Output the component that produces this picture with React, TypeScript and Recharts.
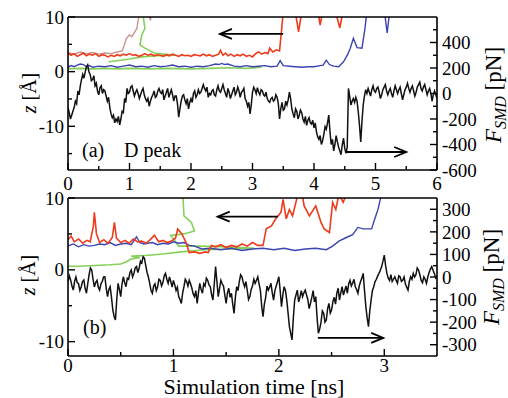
import React from 'react';
import { LineChart, Line, XAxis, YAxis, ReferenceLine } from 'recharts';

const FONT = "'Liberation Serif', 'Times New Roman', Times, Tinos, 'Noto Serif', 'DejaVu Serif', FreeSerif, 'Nimbus Roman', serif";

// ---------- Panel (a) ----------
const xMajorA = [0, 1, 2, 3, 4, 5, 6];
const xTicksA = [0, 0.5, 1, 1.5, 2, 2.5, 3, 3.5, 4, 4.5, 5, 5.5, 6];
const zMajorA = [-10, 0, 10];
const zTicksA = [-15, -10, -5, 0, 5, 10];
const fMajorA = [-600, -400, -200, 0, 200, 400];
const fTicksA = [-600, -500, -400, -300, -200, -100, 0, 100, 200, 300, 400, 500];

const stepA = 0.02;
const forceA = [
  -110, -150, -200, -170, -140, -110, -60, -80, 20, -10, 60, 110, 150, 120, 170, 210, 225, 170, 150, 100,
  110, 140, 60, 80, 20, -10, 45, 60, 0, 30, 20, -20, -60, -30, -110, -160, -190, -170, -230, -200,
  -220, -180, -247, -200, -140, -150, -40, -70, 40, 0, 10, 50, 60, 20, -20, 10, 30, 0, -40, -10,
  20, 40, -10, -40, -60, -40, -100, -60, -30, -10, 20, -30, -20, 20, 40, 10, 0, 30, -50, -20,
  10, 40, -30, 0, 30, -10, -60, -20, -20, -80, -185, -120, -60, -20, -10, -50, -80, -40, -120, -70,
  -40, -70, 0, 20, -30, -10, 30, 0, 10, 40, 70, 40, 20, 50, -30, 0, -10, 20, 30, -10,
  -20, 30, 60, 20, 10, 40, 70, 30, 0, -30, 40, 10, -40, -10, 20, 50, -10, 10, 50, 20,
  -30, 10, 20, 40, -40, -60, -100, -70, -160, -90, 10, 50, 30, 0, 45, 10, -10, 30, 20, -10,
  -20, 10, -40, -60, -70, -40, -30, -60, -50, -10, -30, -80, -200, -120, -70, -130, -120, -60, -90, -50,
  10, -40, -120, -160, -190, -120, -140, -200, -170, -130, -150, -200, -225, -180, -250, -210, -190, -230, -240, -210,
  -270, -230, -300, -340, -360, -330, -400, -370, -320, -260, -280, -230, -170, -300, -400, -360, -450, -400, -330, -380,
  -420, -450, -480, -400, -350, -430, -470, -420, 40, -20, -90, -60, -40, -70, -30, -60, -145, -250, -380, -220,
  -90, -20, 30, 0, 40, 10, -20, 30, 60, 20, 10, 40, 50, 10, -40, -10, 30, 50, 70, 20,
  -10, 20, 40, 0, -30, 20, 60, 30, 0, 30, 50, 0, -50, -10, 30, 50, 80, 40, 10, 40,
  60, 20, -20, 10, 50, 70, 90, 40, 20, 50, 70, 30, -10, 20, 40, 0, -60, -10, 20, -10,
  -40,
];

const redA: [number, number][] = [
  [0, 3.4], [0.05, 3.0], [0.1, 3.3], [0.15, 2.8], [0.2, 3.1], [0.25, 3.4], [0.3, 2.9], [0.35, 3.2],
  [0.4, 3.0], [0.45, 3.3], [0.5, 2.8], [0.55, 3.1], [0.6, 3.0], [0.65, 2.7], [0.7, 3.0], [0.75, 2.8],
  [0.8, 3.1], [0.85, 2.9], [0.9, 3.2], [0.95, 3.0], [1.0, 3.3], [1.05, 3.0], [1.1, 3.1], [1.15, 2.8],
  [1.2, 3.0], [1.25, 3.3], [1.3, 3.0], [1.35, 3.2], [1.4, 2.9], [1.45, 3.1], [1.5, 3.0], [1.55, 2.8],
  [1.6, 3.1], [1.65, 2.9], [1.7, 3.2], [1.75, 3.0], [1.8, 2.8], [1.85, 3.1], [1.9, 2.9], [1.95, 3.0],
  [2.0, 2.8], [2.05, 3.1], [2.1, 3.0], [2.15, 2.9], [2.2, 3.2], [2.25, 2.9], [2.3, 3.1], [2.35, 2.8],
  [2.4, 3.0], [2.45, 3.2], [2.48, 3.9], [2.52, 3.0], [2.56, 3.4], [2.6, 2.9], [2.65, 3.2], [2.7, 2.8],
  [2.75, 3.1], [2.8, 2.9], [2.85, 3.2], [2.9, 2.8], [2.95, 3.0], [3.0, 2.7], [3.05, 3.3], [3.1, 3.6],
  [3.15, 3.2], [3.2, 3.5], [3.25, 3.3], [3.28, 4.3], [3.33, 3.6], [3.39, 4.0], [3.44, 3.8], [3.47, 7.3],
  [3.5, 11], [3.6, 13], [3.7, 10.6], [3.75, 7.3], [3.8, 11], [3.9, 14], [4.0, 12], [4.07, 10.6],
  [4.1, 8.5], [4.14, 11], [4.25, 14], [4.35, 11], [4.42, 8.0], [4.47, 11], [4.6, 15], [6, 15],
];

const blueA: [number, number][] = [
  [0, 0.8], [0.05, 1.1], [0.1, 0.9], [0.15, 1.2], [0.2, 1.4], [0.25, 1.3], [0.3, 0.9], [0.35, 1.1],
  [0.4, 0.8], [0.5, 1.0], [0.6, 0.9], [0.7, 1.1], [0.8, 0.8], [0.9, 1.0], [1.0, 1.2], [1.1, 0.9],
  [1.2, 1.0], [1.3, 0.8], [1.4, 1.1], [1.5, 0.9], [1.6, 1.0], [1.7, 1.2], [1.8, 0.9], [1.9, 1.0],
  [2.0, 0.8], [2.1, 1.0], [2.2, 0.9], [2.3, 1.1], [2.4, 1.4], [2.45, 1.3], [2.5, 1.5], [2.55, 1.3],
  [2.6, 1.4], [2.7, 1.0], [2.8, 0.9], [2.9, 1.1], [3.0, 0.9], [3.1, 1.0], [3.2, 1.1], [3.3, 0.9],
  [3.4, 1.0], [3.45, 2.0], [3.5, 1.1], [3.6, 1.0], [3.7, 0.9], [3.8, 0.8], [3.9, 0.9], [4.0, 0.9],
  [4.1, 1.1], [4.15, 1.2], [4.2, 2.1], [4.25, 1.3], [4.32, 1.0], [4.4, 0.9], [4.48, 1.8], [4.55, 3.2],
  [4.59, 4.3], [4.64, 6.1], [4.7, 4.4], [4.78, 4.3], [4.83, 8.0], [4.86, 11], [5.05, 13], [5.15, 10.6],
  [5.19, 7.1], [5.23, 11], [5.5, 14], [6, 15],
];

const greenA: [number, number][] = [
  [0, 0.5], [0.2, 0.6], [0.4, 0.5], [0.6, 0.6], [0.8, 0.5], [1.0, 0.6], [1.3, 0.5], [1.6, 0.6],
  [2.0, 0.5], [2.3, 0.6], [2.6, 0.7], [2.9, 0.6], [3.15, 0.8],
];

const green2A: [number, number][] = [
  [0.66, 1.8], [0.8, 2.0], [1.0, 2.3], [1.2, 2.7], [1.45, 2.9], [1.74, 3.0], [1.55, 3.2], [1.41, 3.35],
  [1.25, 4.3], [1.17, 4.9], [1.2, 6.7], [1.25, 7.9], [1.22, 10.4], [1.22, 14],
];

const brownA: [number, number][] = [
  [0, 3.5], [0.1, 3.2], [0.2, 3.6], [0.3, 3.3], [0.4, 3.5], [0.5, 3.2], [0.6, 3.4], [0.7, 3.3],
  [0.8, 3.6], [0.88, 3.8], [0.92, 5.0], [0.95, 6.1], [1.0, 6.7], [1.04, 6.4], [1.08, 7.2], [1.12, 7.9],
  [1.15, 10], [1.2, 12], [1.3, 11], [1.34, 9.4], [1.38, 12],
];

// ---------- Panel (b) ----------
const xMajorB = [0, 1, 2, 3];
const xTicksB = [0, 0.5, 1, 1.5, 2, 2.5, 3];
const zMajorB = [-10, 0, 10];
const zTicksB = [-10, -5, 0, 5, 10];
const fMajorB = [-300, -200, -100, 0, 100, 200, 300];
const fTicksB = [-300, -250, -200, -150, -100, -50, 0, 50, 100, 150, 200, 250, 300];

const stepB = 0.0125;
const forceB = [
  -20, 5, -13, -40, -58, -20, 0, -25, -30, -60, -44, -20, -13, -50, -72, -30, 10, 40, 31, -10,
  -44, -25, -15, -45, -58, -30, -20, 0, 1, -50, -87, -55, -43, -90, -146, -175, -190, -100, -28, -55,
  -87, -30, 1, -25, -43, -5, -10, 20, 31, 0, 16, 40, 46, 20, 40, 70, 62, 90, 83, 50,
  20, 0, -28, -60, -72, -40, -30, -60, -43, -10, -15, -40, -25, 5, 16, -10, -28, 0, -20, -45,
  -15, -35, -60, -45, -87, -100, -117, -70, -43, -10, -20, -40, -15, -30, -50, -75, -87, -60, -117, -70,
  -28, -55, -72, -30, -40, -5, -15, -35, -43, -80, -102, -30, 46, -20, -87, -50, -15, -30, -40, -80,
  -117, -70, -50, -90, -72, -120, -161, -90, -43, -60, -20, 10, 1, -25, -43, -20, -58, -100, -87, -55,
  -40, -10, -28, -15, 1, -30, -60, -130, -176, -120, -90, -40, -58, -45, -28, -70, -102, -60, -40, -20,
  1, -60, -131, -80, -43, -60, -102, -160, -220, -250, -279, -180, -102, -80, -58, -110, -90, -60, -87, -70,
  -58, -80, -100, -140, -117, -90, -60, -110, -87, -180, -249, -230, -200, -150, -161, -200, -190, -140, -117, -160,
  -146, -110, -90, -120, -72, -50, -102, -70, -43, -80, -60, -40, -72, -30, -15, -40, -28, -10, -43, -55,
  -72, -40, -20, -5, 16, -60, -131, -180, -220, -150, -102, -60, -43, -20, -10, 5, 16, 30, 46, 70,
  97, 50, 16, -5, -15, 10, -20, -10, 1, -15, -28, 5, 1, -20, -15, 0, -30, -45, -58, -20,
  1, -10, 16, 0, 10, 40, 31, 10, -15, -25, 1, -10, -28, 0, 20, 35, 46, 30, 16, -5,
  1,
];

const redB: [number, number][] = [
  [0, 4.2], [0.03, 4.7], [0.06, 3.9], [0.1, 4.3], [0.14, 3.7], [0.18, 4.1], [0.21, 3.9], [0.24, 6.0],
  [0.25, 8.0], [0.27, 5.0], [0.3, 3.8], [0.34, 4.2], [0.38, 3.7], [0.42, 4.5], [0.44, 6.6], [0.46, 4.4],
  [0.5, 3.8], [0.54, 4.1], [0.58, 3.7], [0.62, 4.3], [0.66, 3.9], [0.7, 4.0], [0.74, 3.7], [0.78, 4.2],
  [0.82, 4.8], [0.86, 3.9], [0.9, 4.1], [0.94, 3.8], [0.98, 4.0], [1.02, 4.4], [1.04, 5.7], [1.08, 5.0],
  [1.12, 3.8], [1.15, 2.4], [1.2, 2.5], [1.25, 2.3], [1.3, 2.5], [1.33, 2.4], [1.36, 3.4], [1.4, 3.2],
  [1.45, 3.5], [1.5, 3.1], [1.55, 3.4], [1.6, 3.2], [1.65, 3.6], [1.7, 3.3], [1.75, 3.8], [1.8, 3.4],
  [1.85, 3.4], [1.88, 5.7], [1.93, 6.1], [1.97, 7.1], [2.02, 8.0], [2.04, 9.8], [2.07, 7.1], [2.1, 8.4],
  [2.13, 7.5], [2.18, 10.5], [2.21, 11.5], [2.24, 8.9], [2.29, 7.5], [2.35, 8.9], [2.4, 6.6], [2.43, 5.7],
  [2.48, 5.2], [2.51, 9.4], [2.54, 8.4], [2.57, 10.5], [2.61, 9.4], [2.64, 10.5], [2.7, 12.5], [3.5, 14],
];

const blueB: [number, number][] = [
  [0, 3.3], [0.05, 3.6], [0.1, 3.2], [0.15, 3.5], [0.2, 3.3], [0.25, 3.4], [0.3, 3.6], [0.35, 3.5],
  [0.4, 3.8], [0.45, 3.4], [0.5, 3.6], [0.55, 3.7], [0.6, 3.5], [0.65, 4.6], [0.68, 3.8], [0.72, 3.6],
  [0.8, 3.8], [0.85, 3.5], [0.9, 3.7], [0.95, 3.6], [1.0, 3.9], [1.05, 3.7], [1.1, 3.8], [1.15, 3.4],
  [1.2, 3.3], [1.27, 2.9], [1.35, 3.0], [1.45, 2.8], [1.55, 3.0], [1.65, 2.7], [1.75, 2.9], [1.85, 3.0],
  [1.95, 2.8], [2.05, 3.0], [2.15, 2.7], [2.25, 2.9], [2.35, 3.0], [2.45, 2.8], [2.51, 3.3], [2.57, 4.0],
  [2.64, 4.5], [2.7, 4.9], [2.75, 5.9], [2.8, 5.7], [2.88, 5.7], [2.91, 7.1], [2.94, 8.4], [2.97, 10.3],
  [3.05, 12], [3.5, 14],
];

const greenB: [number, number][] = [
  [0, 0.5], [0.1, 0.5], [0.25, 0.6], [0.4, 0.7], [0.5, 0.8], [0.55, 1.1], [0.6, 1.5], [0.68, 1.7],
  [0.6, 1.9], [0.73, 2.0], [0.9, 2.2], [1.07, 2.5], [1.3, 2.8], [1.55, 2.9], [1.77, 3.0], [1.5, 3.2],
  [1.25, 3.3], [1.05, 3.3], [0.975, 4.8], [1.1, 5.0], [1.2, 5.4], [1.17, 6.6], [1.1, 7.5], [1.09, 10.3],
  [1.09, 13],
];

// ---------- helpers ----------
const RED = '#ef3b1c';
const BLUE = '#3b44b0';
const GREEN = '#86d05a';
const BROWN = '#c99490';
const BLACK = '#111111';

const toSeries = (pts: [number, number][]) => pts.map(([t, v]) => ({ t, v }));
const toUniform = (vals: number[], dt: number) => vals.map((v, i) => ({ t: Math.round(i * dt * 10000) / 10000, v }));

const tickTextStyle = { fontFamily: FONT, fontSize: 19, fill: '#000' } as any;

function AxisTick(props: any) {
  const { x, y, payload, tkSide, tkMajor, tkLabel, tkOff } = props;
  const v = payload.value;
  const isMajor = tkMajor.includes(v);
  const len = isMajor ? 7 : 4;
  const sw = 1.4;
  let line: any = null;
  let label: any = null;
  if (tkSide === 'left') {
    line = <line x1={x} y1={y} x2={x + len} y2={y} stroke="#000" strokeWidth={sw} />;
    if (isMajor && tkLabel) label = <text x={x - 4} y={y} dy="0.35em" textAnchor="end" fontFamily={FONT} style={tickTextStyle}>{v}</text>;
  } else if (tkSide === 'right') {
    line = <line x1={x} y1={y} x2={x - len} y2={y} stroke="#000" strokeWidth={sw} />;
    if (isMajor && tkLabel) label = <text x={x + 5} y={y} dy="0.35em" textAnchor="start" fontFamily={FONT} style={tickTextStyle}>{v}</text>;
  } else if (tkSide === 'bottom') {
    line = <line x1={x} y1={y} x2={x} y2={y - len} stroke="#000" strokeWidth={sw} />;
    if (isMajor && tkLabel) label = <text x={x} y={y + tkOff} textAnchor="middle" fontFamily={FONT} style={tickTextStyle}>{v}</text>;
  } else {
    line = <line x1={x} y1={y} x2={x} y2={y + len} stroke="#000" strokeWidth={sw} />;
  }
  return (
    <g>
      {line}
      {label}
    </g>
  );
}

const arrowShape = (p: any) => {
  const { x1, y1, x2, y2 } = p;
  const dir = x2 > x1 ? 1 : -1;
  return (
    <g>
      <line x1={x1} y1={y1} x2={x2} y2={y2} stroke="#000" strokeWidth={1.8} />
      <path d={`M${x2 - dir * 12},${y2 - 5} L${x2},${y2} L${x2 - dir * 12},${y2 + 5}`} fill="none" stroke="#000" strokeWidth={1.8} />
    </g>
  );
};

const axisLine = { stroke: '#000', strokeWidth: 1.6 };

type PanelProps = {
  height: number;
  bottomMargin: number;
  xDomain: [number, number];
  xTicks: number[];
  xMajor: number[];
  zDomain: [number, number];
  zTicks: number[];
  zMajor: number[];
  fDomain: [number, number];
  fTicks: number[];
  fMajor: number[];
  labelOff: number;
  black: { t: number; v: number }[];
  lines: { data: { t: number; v: number }[]; color: string; width: number }[];
  arrows: { seg: [number, number, number, number]; axis: string }[];
};

function Panel(p: PanelProps) {
  return (
    <LineChart width={508} height={p.height} margin={{ top: 0, right: 0, bottom: p.bottomMargin, left: 0 }}>
      <XAxis
        xAxisId="bx"
        orientation="bottom"
        type="number"
        dataKey="t"
        domain={p.xDomain}
        allowDataOverflow
        ticks={p.xTicks}
        interval={0}
        height={20}
        tickSize={0}
        tickMargin={0}
        tickLine={false}
        axisLine={axisLine}
        tick={<AxisTick tkSide="bottom" tkMajor={p.xMajor} tkLabel tkOff={p.labelOff} />}
      />
      <XAxis
        xAxisId="tx"
        orientation="top"
        type="number"
        domain={p.xDomain}
        allowDataOverflow
        ticks={p.xTicks}
        interval={0}
        height={17}
        tickSize={0}
        tickMargin={0}
        tickLine={false}
        axisLine={axisLine}
        tick={<AxisTick tkSide="top" tkMajor={p.xMajor} tkLabel={false} tkOff={0} />}
      />
      <YAxis
        yAxisId="z"
        orientation="left"
        type="number"
        domain={p.zDomain}
        allowDataOverflow
        ticks={p.zTicks}
        interval={0}
        width={68}
        tickSize={0}
        tickMargin={0}
        tickLine={false}
        axisLine={axisLine}
        tick={<AxisTick tkSide="left" tkMajor={p.zMajor} tkLabel tkOff={0} />}
      />
      <YAxis
        yAxisId="f"
        orientation="right"
        type="number"
        domain={p.fDomain}
        allowDataOverflow
        ticks={p.fTicks}
        interval={0}
        width={71}
        tickSize={0}
        tickMargin={0}
        tickLine={false}
        axisLine={axisLine}
        tick={<AxisTick tkSide="right" tkMajor={p.fMajor} tkLabel tkOff={0} />}
      />
      {p.lines.map((l, i) => (
        <Line
          key={i}
          xAxisId="bx"
          yAxisId="z"
          data={l.data}
          dataKey="v"
          type="linear"
          stroke={l.color}
          strokeWidth={l.width}
          dot={false}
          activeDot={false}
          isAnimationActive={false}
        />
      ))}
      <Line
        xAxisId="bx"
        yAxisId="f"
        data={p.black}
        dataKey="v"
        type="linear"
        stroke={BLACK}
        strokeWidth={1.5}
        dot={false}
        activeDot={false}
        isAnimationActive={false}
      />
      {p.arrows.map((a, i) => (
        <ReferenceLine
          key={'a' + i}
          xAxisId="bx"
          yAxisId={a.axis}
          segment={[{ x: a.seg[0], y: a.seg[1] }, { x: a.seg[2], y: a.seg[3] }]}
          shape={arrowShape}
          ifOverflow="visible"
        />
      ))}
    </LineChart>
  );
}

export default function App() {
  const ts = (size: number) => ({ fontFamily: FONT, fontSize: size, fill: '#000' } as any);
  return (
    <div style={{ position: 'fixed', left: 0, top: 0, width: 508, height: 398, background: '#fff', overflow: 'hidden', fontFamily: FONT }}>
      <div style={{ position: 'absolute', left: 0, top: 0 }}>
        <Panel
          height={200}
          bottomMargin={10}
          xDomain={[0, 6]}
          xTicks={xTicksA}
          xMajor={xMajorA}
          zDomain={[-18, 10]}
          zTicks={zTicksA}
          zMajor={zMajorA}
          fDomain={[-600, 600]}
          fTicks={fTicksA}
          fMajor={fMajorA}
          labelOff={20}
          black={toUniform(forceA, stepA)}
          lines={[
            { data: toSeries(greenA), color: GREEN, width: 1.6 },
            { data: toSeries(green2A), color: GREEN, width: 1.6 },
            { data: toSeries(blueA), color: BLUE, width: 1.4 },
            { data: toSeries(brownA), color: BROWN, width: 1.4 },
            { data: toSeries(redA), color: RED, width: 1.6 },
          ]}
          arrows={[
            { seg: [3.5, 6.9, 2.47, 6.9], axis: 'z' },
            { seg: [4.52, -459, 5.5, -459], axis: 'f' },
          ]}
        />
      </div>
      <div style={{ position: 'absolute', left: 0, top: 181 }}>
        <Panel
          height={217}
          bottomMargin={22}
          xDomain={[0, 3.5]}
          xTicks={xTicksB}
          xMajor={xMajorB}
          zDomain={[-12, 10]}
          zTicks={zTicksB}
          zMajor={zMajorB}
          fDomain={[-350, 350]}
          fTicks={fTicksB}
          fMajor={fMajorB}
          labelOff={16}
          black={toUniform(forceB, stepB)}
          lines={[
            { data: toSeries(greenB), color: GREEN, width: 1.6 },
            { data: toSeries(blueB), color: BLUE, width: 1.4 },
            { data: toSeries(redB), color: RED, width: 1.6 },
          ]}
          arrows={[
            { seg: [1.99, 7.4, 1.42, 7.4], axis: 'z' },
            { seg: [2.37, -270, 2.99, -270], axis: 'f' },
          ]}
        />
      </div>
      <svg width={508} height={398} style={{ position: 'absolute', left: 0, top: 0, pointerEvents: 'none' }}>
        <text x={82} y={157} fontFamily={FONT} style={ts(20)}>(a)</text>
        <text x={124} y={157} fontFamily={FONT} style={ts(20)}>D peak</text>
        <text x={83} y={334} fontFamily={FONT} style={ts(20)}>(b)</text>
        <text x={254} y={394} textAnchor="middle" fontFamily={FONT} style={ts(22)}>Simulation time [ns]</text>
        <text x={29} y={93} textAnchor="middle" dy="0.35em" transform="rotate(-90 29 93)" fontFamily={FONT} style={ts(20)}>
          <tspan fontStyle="italic">z</tspan> [Å]
        </text>
        <text x={28} y={275} textAnchor="middle" dy="0.35em" transform="rotate(-90 28 275)" fontFamily={FONT} style={ts(20)}>
          <tspan fontStyle="italic">z</tspan> [Å]
        </text>
        <text x={494} y={95} textAnchor="middle" dy="0.3em" transform="rotate(-90 494 95)" fontFamily={FONT} style={ts(23)}>
          <tspan fontStyle="italic">F</tspan>
          <tspan fontStyle="italic" fontSize={16} dy={5}>SMD</tspan>
          <tspan dy={-5}> [pN]</tspan>
        </text>
        <text x={492} y={277} textAnchor="middle" dy="0.3em" transform="rotate(-90 492 277)" fontFamily={FONT} style={ts(23)}>
          <tspan fontStyle="italic">F</tspan>
          <tspan fontStyle="italic" fontSize={16} dy={5}>SMD</tspan>
          <tspan dy={-5}> [pN]</tspan>
        </text>
      </svg>
    </div>
  );
}
